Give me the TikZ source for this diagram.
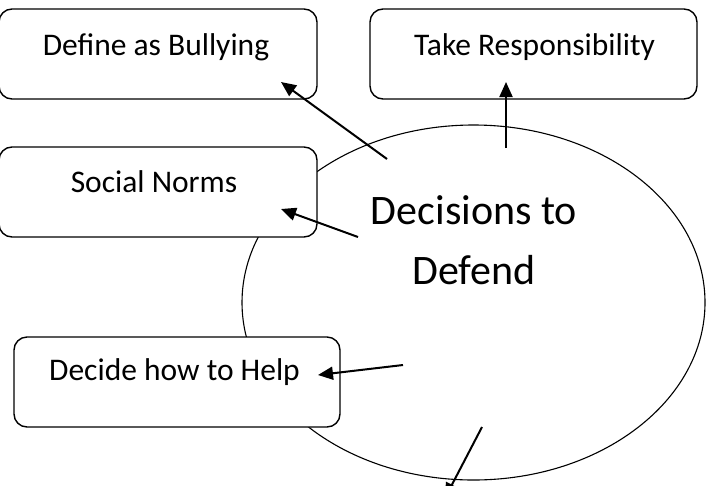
\documentclass[tikz,border=0pt]{standalone}
\usepackage{fontspec}
\setmainfont{Carlito}
\usetikzlibrary{arrows.meta}
\begin{document}
\begin{tikzpicture}[x=1pt,y=-1pt,
  decision/.style={draw=black,line width=1.1pt},
  stagebox/.style={draw=black,line width=1.4pt,fill=white,rounded corners=13pt,
    inner sep=0pt,minimum height=90pt},
  stagetext/.style={anchor=base,inner sep=0pt,font=\fontsize{31.5}{38}\selectfont},
  bigtext/.style={anchor=base,inner sep=0pt,font=\fontsize{42}{50}\selectfont},
  link/.style={line width=2pt,-{Triangle[length=15pt,width=13pt]}}]
\useasboundingbox (0,0) rectangle (708,485);

% central ellipse
\draw[decision] (473.5,302.5) ellipse [x radius=231.5, y radius=177.5];

% stage boxes
\node[stagebox,minimum width=318pt] (bully) at (158,54) {};
\node[stagebox,minimum width=318pt] (norms) at (158,192) {};
\node[stagebox,minimum width=327pt] (resp) at (533.5,54) {};
\node[stagebox,minimum width=326pt] (help) at (177,382) {};

% box labels
\node[stagetext] (bullyT) at (156,55) {Define as Bullying};
\node[stagetext] (normsT) at (154,192) {Social Norms};
\node[stagetext] (respT) at (534.5,55) {Take Responsibility};
\node[stagetext] (helpT) at (174.5,380) {Decide how to Help};

% centre label
\node[bigtext] (dec1) at (474,224) {Decisions to};
\node[bigtext] (dec2) at (474,284) {Defend};

% arrow end points
\coordinate (s1) at (387,159);
\coordinate (t1) at (281,82);
\coordinate (s2) at (506,148);
\coordinate (t2) at (506,82);
\coordinate (s3) at (358,237);
\coordinate (t3) at (281,209);
\coordinate (s4) at (403,365);
\coordinate (t4) at (318,375);
\coordinate (s5) at (482,427);
\coordinate (t5) at (445,498);

% arrows
\draw[link] (s1) -- (t1);
\draw[link] (s2) -- (t2);
\draw[link] (s3) -- (t3);
\draw[link] (s4) -- (t4);
\draw[link] (s5) -- (t5);
\end{tikzpicture}
\end{document}
